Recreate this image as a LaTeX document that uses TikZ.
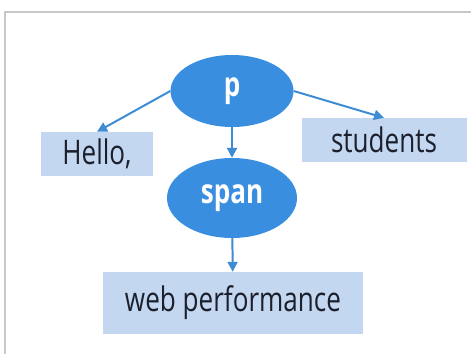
\documentclass[tikz,border=0pt]{standalone}
\usepackage{fontspec}
\setmainfont{Open Sans}[FakeStretch=0.77]
\usetikzlibrary{arrows.meta,shapes.geometric}
\definecolor{treeblue}{RGB}{58,142,224}
\definecolor{arrowblue}{RGB}{62,140,212}
\definecolor{leafblue}{RGB}{196,215,240}
\definecolor{framegray}{RGB}{200,200,200}
\definecolor{inkdark}{RGB}{28,32,44}

\begin{document}
\begin{tikzpicture}[x=1bp,y=-1bp,
    every node/.style={font=\fontsize{34}{38}\selectfont},
    tag/.style={ellipse,fill=treeblue,text=white,inner sep=0pt,
                font=\fontsize{34}{38}\selectfont\bfseries},
    leaf/.style={rectangle,fill=leafblue,text=inkdark,inner sep=0pt},
    link/.style={arrowblue,line width=2pt,-{Triangle[length=10pt,width=10pt]}}]
    \useasboundingbox (0,0) rectangle (471,354);
    \fill[white] (0,0) rectangle (471,354);
    \draw[framegray,line width=2pt] (5,354)--(5,12)--(471,12);
    % element nodes
    \node[tag,minimum width=123bp,minimum height=72bp] (p) at (232,91) {p};
    \node[tag,minimum width=130bp,minimum height=80bp] (span) at (232,198) {span};
    % text nodes
    \node[leaf,minimum width=112bp,minimum height=44bp] (hello) at (97,154) {Hello,};
    \node[leaf,minimum width=165bp,minimum height=44bp] (students) at (384,140) {students};
    \node[leaf,minimum width=260bp,minimum height=62bp] (web) at (233,303) {web performance};
    \draw[link] (p.west) -- (hello.north);
    \draw[link] (p.east) -- (students.north);
    \draw[link] (p) -- (span);
    \draw[link] (span) -- (web);
  \end{tikzpicture}
\end{document}
